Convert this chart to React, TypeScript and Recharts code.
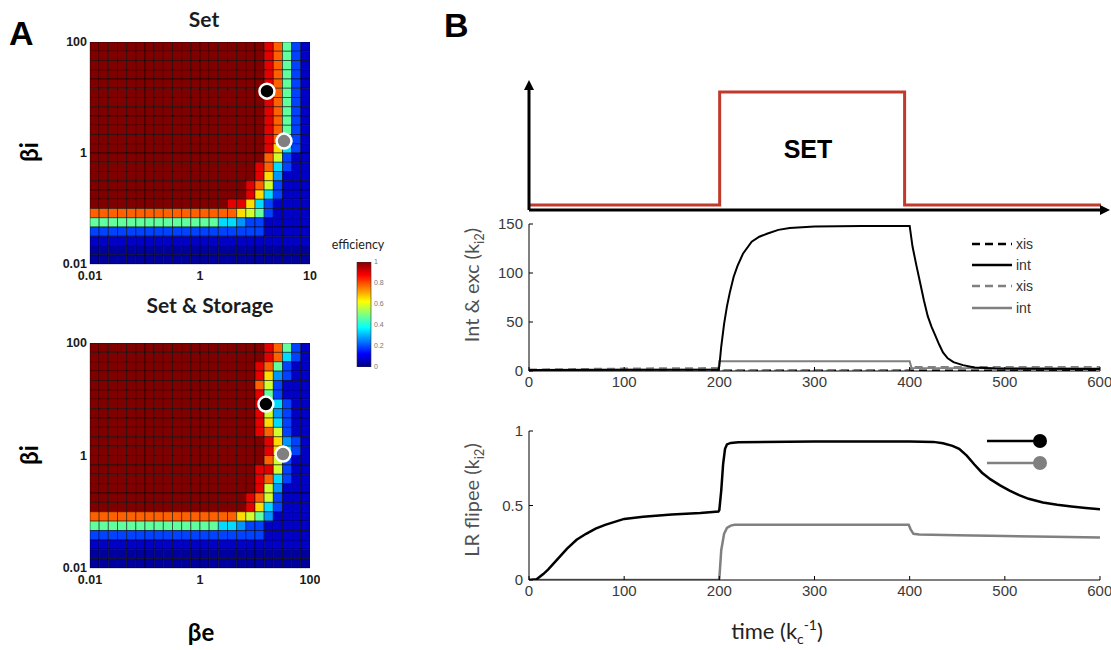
import React from 'react';
import { ScatterChart, Scatter, BarChart, Bar, XAxis, YAxis, LineChart, Line, Legend } from 'recharts';

// Heat maps: 24 x 24 cells. Row 0 is βi = 100 (top), column 0 is βe = 0.01 (left).
// One letter per cell, its efficiency is in LEVELS.
const SET_GRID = [
  'RRRRRRRRRRRRRRRRRRRroabd',
  'RRRRRRRRRRRRRRRRRRRroabd',
  'RRRRRRRRRRRRRRRRRRRroabd',
  'RRRRRRRRRRRRRRRRRRRroabd',
  'RRRRRRRRRRRRRRRRRRRroabd',
  'RRRRRRRRRRRRRRRRRRRroabd',
  'RRRRRRRRRRRRRRRRRRRroabd',
  'RRRRRRRRRRRRRRRRRRRroabd',
  'RRRRRRRRRRRRRRRRRRRroabd',
  'RRRRRRRRRRRRRRRRRRRroabd',
  'RRRRRRRRRRRRRRRRRRRroabd',
  'RRRRRRRRRRRRRRRRRRRrycbd',
  'RRRRRRRRRRRRRRRRRRRogbdd',
  'RRRRRRRRRRRRRRRRRRrocbdd',
  'RRRRRRRRRRRRRRRRRRrylddd',
  'RRRRRRRRRRRRRRRRRrogbddd',
  'RRRRRRRRRRRRRRRRRrycbddd',
  'RRRRRRRRRRRRRRRrrycbdddd',
  'ooooooooooooooooygabdddd',
  'aaaaaaaaaaaaaacclbbddddd',
  'bbbbbbbbbbbbbbbbbbbddddd',
  'dddddddddddddddddddddddd',
  'nnnnnnnnnnnnnnnnnnnnnnnn',
  'nnnnnnnnnnnnnnnnnnnnnnnn',
];

const STORE_GRID = [
  'RRRRRRRRRRRRRRRRRRRroabd',
  'RRRRRRRRRRRRRRRRRRRrocbd',
  'RRRRRRRRRRRRRRRRRRroabdd',
  'RRRRRRRRRRRRRRRRRRrylbdd',
  'RRRRRRRRRRRRRRRRRRogbddd',
  'RRRRRRRRRRRRRRRRRRrabddd',
  'RRRRRRRRRRRRRRRRRRrycbdd',
  'RRRRRRRRRRRRRRRRRRrglbdd',
  'RRRRRRRRRRRRRRRRRRrycbdd',
  'RRRRRRRRRRRRRRRRRRrogbdd',
  'RRRRRRRRRRRRRRRRRRRrylbd',
  'RRRRRRRRRRRRRRRRRRRrycbd',
  'RRRRRRRRRRRRRRRRRRRogbdd',
  'RRRRRRRRRRRRRRRRRRrrgbdd',
  'RRRRRRRRRRRRRRRRRRrocbdd',
  'RRRRRRRRRRRRRRRRRRrglddd',
  'RRRRRRRRRRRRRRRRRrogbddd',
  'RRRRRRRRRRRRRRRRRrycbddd',
  'ooooooooooooooooygaldddd',
  'aaaaaaaaaaaaaacclbbddddd',
  'bbbbbbbbbbbbbbbbbbbddddd',
  'dddddddddddddddddddddddd',
  'nnnnnnnnnnnnnnnnnnnnnnnn',
  'nnnnnnnnnnnnnnnnnnnnnnnn',
];

const LEVELS: Record<string, number> = {
  R: 1, r: 0.9, o: 0.78, y: 0.66, g: 0.58, a: 0.47, c: 0.34, l: 0.27, b: 0.19, d: 0.07, n: 0.03,
};

// axes are log10(β)
const LOG_TICKS = [-2, 0, 2];
const BI_LABELS = ['0.01', '1', '100'];
const BE_LABELS_SET = ['0.01', '1', '10'];
const BE_LABELS_STORE = ['0.01', '1', '100'];

// marked parameter pairs (black, grey)
const DOT_COLORS = ['#000000', '#808080'];
const SET_DOT_BE = [16.5, 33.7];
const SET_DOT_BI = [13, 1.64];
const STORE_DOT_BE = [15.8, 32.3];
const STORE_DOT_BI = [8.2, 1.06];

const CB_TICKS = [0, 0.2, 0.4, 0.6, 0.8, 1];

// SET stimulus (schematic)
const SIGNAL_T = [0, 200, 200, 394, 394, 600];
const SIGNAL_V = [0, 0, 1, 1, 0, 0];

const TIME_TICKS = [0, 100, 200, 300, 400, 500, 600];

// Int & exc
const INT_BLACK_T = [0, 100, 199, 200, 202, 205, 208, 211, 215, 219, 225, 234, 242, 250, 262, 274, 300, 350, 400, 403, 407, 411, 415, 419, 423, 427, 431, 435, 440, 446, 456, 468, 490, 600];
const INT_BLACK_V = [1, 1.2, 1.5, 5, 25, 48, 66, 80, 96, 107, 120, 132, 137, 140, 144, 146, 147.5, 148, 148, 127, 108, 90, 72, 56, 45, 36, 27, 19, 13, 9, 6, 3.5, 2.5, 2];
const XIS_BLACK_T = [0, 600];
const XIS_BLACK_V = [0.5, 0.5];
const XIS_GRAY_T = [0, 50, 100, 150, 199, 200, 400, 401, 600];
const XIS_GRAY_V = [1.5, 2, 2.5, 2.8, 3, 0.5, 0.5, 4, 4];
const INT_GRAY_T = [0, 199, 200, 400, 402, 600];
const INT_GRAY_V = [1, 1.5, 10, 10, 3, 2.5];

// LR flipee
const FLIP_BLACK_T = [0, 8, 15, 20, 25, 30, 40, 50, 60, 70, 80, 100, 120, 150, 180, 199, 200, 202, 204, 206, 208, 212, 220, 300, 400, 425, 435, 445, 452, 460, 468, 476, 485, 495, 505, 515, 525, 540, 555, 570, 585, 600];
const FLIP_BLACK_V = [0, 0.005, 0.04, 0.07, 0.105, 0.14, 0.21, 0.27, 0.31, 0.345, 0.37, 0.41, 0.425, 0.44, 0.45, 0.46, 0.47, 0.6, 0.78, 0.88, 0.91, 0.92, 0.925, 0.93, 0.93, 0.927, 0.918, 0.9, 0.88, 0.835, 0.775, 0.72, 0.675, 0.635, 0.6, 0.57, 0.545, 0.52, 0.505, 0.493, 0.483, 0.475];
const FLIP_GRAY_T = [0, 199, 200, 202, 205, 208, 212, 216, 300, 399, 401, 404, 410, 450, 500, 550, 600];
const FLIP_GRAY_V = [0, 0, 0.01, 0.2, 0.31, 0.35, 0.365, 0.37, 0.37, 0.37, 0.34, 0.31, 0.305, 0.3, 0.295, 0.29, 0.285];

const MID_LEGEND = [
  { name: 'xis', color: '#000000', dash: '8 5' },
  { name: 'int', color: '#000000', dash: undefined },
  { name: 'xis', color: '#808080', dash: '8 5' },
  { name: 'int', color: '#808080', dash: undefined },
];

const ARIAL = 'Liberation Sans, Arial, sans-serif';
const CALIBRI = 'Lato, Open Sans, sans-serif';

const pts = (t: number[], v: number[]) => t.map((x, i) => ({ t: x, v: v[i] }));

// matlab "jet" colour map
const jet = (v: number) => {
  const c = (x: number) => Math.round(255 * Math.max(0, Math.min(1, x)));
  return `rgb(${c(1.5 - Math.abs(4 * v - 3))},${c(1.5 - Math.abs(4 * v - 2))},${c(1.5 - Math.abs(4 * v - 1))})`;
};

const hmTick = { fontSize: 12.5, fill: '#1a1a1a', fontFamily: ARIAL, fontWeight: 'bold' };
const HM_PLOT_W = 220;

interface HeatmapProps {
  grid: string[];
  beLabels: string[];
  dotBe: number[];
  dotBi: number[];
  left: number;
  top: number;
  plotH: number;
}

function Heatmap({ grid, beLabels, dotBe, dotBi, left, top, plotH }: HeatmapProps) {
  const nRows = grid.length;
  const nCols = grid[0].length;
  // cell centres in log10 space
  const cells = grid.flatMap((row, r) =>
    row.split('').map((ch, c) => ({
      x: -2 + ((c + 0.5) * 4) / nCols,
      y: 2 - ((r + 0.5) * 4) / nRows,
      fill: jet(LEVELS[ch]),
    }))
  );
  const dots = dotBe.map((be, i) => ({ x: Math.log10(be), y: Math.log10(dotBi[i]), fill: DOT_COLORS[i] }));
  const cw = HM_PLOT_W / nCols;
  const chh = plotH / nRows;

  return (
    <div style={{ position: 'absolute', left, top }}>
      <ScatterChart width={280} height={12 + plotH + 26} margin={{ top: 12, right: 10, left: 10, bottom: 6 }}>
        <XAxis
          dataKey="x"
          type="number"
          domain={[-2, 2]}
          ticks={LOG_TICKS}
          tickFormatter={(v: number) => beLabels[LOG_TICKS.indexOf(v)]}
          height={20}
          tickSize={0}
          tickMargin={7}
          tickLine={false}
          axisLine={{ stroke: '#b5b5b5' }}
          tick={hmTick}
          allowDataOverflow
        />
        <YAxis
          dataKey="y"
          type="number"
          domain={[-2, 2]}
          ticks={LOG_TICKS}
          tickFormatter={(v: number) => BI_LABELS[LOG_TICKS.indexOf(v)]}
          width={40}
          tickSize={0}
          tickMargin={3}
          tickLine={false}
          axisLine={{ stroke: '#b5b5b5' }}
          tick={hmTick}
          allowDataOverflow
        />
        <Scatter
          data={cells}
          isAnimationActive={false}
          shape={(p: any) => (
            <rect
              x={p.cx - cw / 2}
              y={p.cy - chh / 2}
              width={cw}
              height={chh}
              fill={p.payload.fill}
              stroke="rgba(0,0,0,0.5)"
              strokeWidth={1}
            />
          )}
        />
        <Scatter
          data={dots}
          isAnimationActive={false}
          shape={(p: any) => <circle cx={p.cx} cy={p.cy} r={7.5} fill={p.payload.fill} stroke="#ffffff" strokeWidth={2.5} />}
        />
      </ScatterChart>
    </div>
  );
}

function ColorBar() {
  return (
    <div style={{ position: 'absolute', left: 350, top: 255 }}>
      <BarChart width={50} height={120} data={[{ v: 1 }]} margin={{ top: 7, right: 7, left: 7, bottom: 8 }} barCategoryGap={0}>
        <defs>
          <linearGradient id="jetGrad" x1="0" y1="1" x2="0" y2="0">
            <stop offset="0" stopColor="#000080" />
            <stop offset="0.125" stopColor="#0000ff" />
            <stop offset="0.375" stopColor="#00ffff" />
            <stop offset="0.625" stopColor="#ffff00" />
            <stop offset="0.875" stopColor="#ff0000" />
            <stop offset="1" stopColor="#800000" />
          </linearGradient>
        </defs>
        <XAxis hide />
        <YAxis
          orientation="right"
          type="number"
          domain={[0, 1]}
          ticks={CB_TICKS}
          width={22}
          tickSize={0}
          tickMargin={3}
          axisLine={false}
          tickLine={false}
          tick={{ fontSize: 7, fill: '#777', fontFamily: ARIAL }}
          allowDataOverflow
        />
        <Bar dataKey="v" fill="url(#jetGrad)" stroke="#333" strokeWidth={0.6} isAnimationActive={false} />
      </BarChart>
    </div>
  );
}

const timeTick = { fontSize: 15, fill: '#3a3a3a', fontFamily: ARIAL };

// matlab style box: ticks point inward on all four sides
function boxAxes(yDomain: number[], yTicks: number[], yFormat?: (v: number) => string) {
  return [
    <XAxis
      key="xb"
      dataKey="t"
      type="number"
      domain={[0, 600]}
      ticks={TIME_TICKS}
      tickSize={-4}
      tickMargin={9}
      height={20}
      axisLine={{ stroke: '#000' }}
      tickLine={{ stroke: '#000' }}
      tick={timeTick}
      allowDataOverflow
    />,
    <XAxis
      key="xt"
      xAxisId="top"
      orientation="top"
      type="number"
      domain={[0, 600]}
      ticks={TIME_TICKS}
      tick={false}
      tickSize={-4}
      height={0}
      axisLine={{ stroke: '#000' }}
      tickLine={{ stroke: '#000' }}
      allowDataOverflow
    />,
    <YAxis
      key="yl"
      type="number"
      domain={yDomain}
      ticks={yTicks}
      tickFormatter={yFormat}
      tickSize={-4}
      tickMargin={10}
      width={50}
      axisLine={{ stroke: '#000' }}
      tickLine={{ stroke: '#000' }}
      tick={timeTick}
      allowDataOverflow
    />,
    <YAxis
      key="yr"
      yAxisId="right"
      orientation="right"
      type="number"
      domain={yDomain}
      ticks={yTicks}
      tick={false}
      tickSize={-4}
      width={0}
      axisLine={{ stroke: '#000' }}
      tickLine={{ stroke: '#000' }}
      allowDataOverflow
    />,
  ];
}

const MidLegend = () => (
  <div style={{ fontFamily: ARIAL, fontSize: 14, color: '#333' }}>
    {MID_LEGEND.map((s, i) => (
      <div key={i} style={{ display: 'flex', alignItems: 'center', height: 21.3 }}>
        <svg width={40} height={6}>
          <line x1={0} y1={3} x2={40} y2={3} stroke={s.color} strokeWidth={2.5} strokeDasharray={s.dash} />
        </svg>
        <span style={{ marginLeft: 4 }}>{s.name}</span>
      </div>
    ))}
  </div>
);

const FlipLegend = () => (
  <div>
    {DOT_COLORS.map((c, i) => (
      <div key={i} style={{ height: 22 }}>
        <svg width={62} height={22}>
          <line x1={0} y1={11} x2={50} y2={11} stroke={c} strokeWidth={2.5} />
          <circle cx={53} cy={11} r={7} fill={c} />
        </svg>
      </div>
    ))}
  </div>
);

export default function App() {
  return (
    <div style={{ position: 'absolute', left: 0, top: 0, width: 1111, height: 650, background: '#fff' }}>
      <Heatmap grid={SET_GRID} beLabels={BE_LABELS_SET} dotBe={SET_DOT_BE} dotBi={SET_DOT_BI} left={40} top={30} plotH={222} />
      <Heatmap grid={STORE_GRID} beLabels={BE_LABELS_STORE} dotBe={STORE_DOT_BE} dotBi={STORE_DOT_BI} left={40} top={331} plotH={225} />
      <ColorBar />

      {/* SET stimulus */}
      <div style={{ position: 'absolute', left: 500, top: 70 }}>
        <LineChart width={611} height={150} margin={{ top: 19, right: 10, left: 28, bottom: 9 }}>
          <defs>
            <marker id="arrowHead" markerWidth="10" markerHeight="10" refX="1" refY="5" orient="auto-start-reverse" markerUnits="userSpaceOnUse">
              <path d="M0,0 L10,5 L0,10 z" fill="#000" />
            </marker>
          </defs>
          <XAxis
            dataKey="t"
            type="number"
            domain={[0, 600]}
            tick={false}
            tickLine={false}
            height={1}
            axisLine={{ stroke: '#000', strokeWidth: 3, markerEnd: 'url(#arrowHead)' }}
            allowDataOverflow
          />
          <YAxis
            type="number"
            domain={[-0.044, 1.027]}
            tick={false}
            tickLine={false}
            width={1}
            axisLine={{ stroke: '#000', strokeWidth: 3, markerStart: 'url(#arrowHead)' }}
            allowDataOverflow
          />
          <Line data={pts(SIGNAL_T, SIGNAL_V)} dataKey="v" type="linear" stroke="#c0392b" strokeWidth={3} dot={false} isAnimationActive={false} />
        </LineChart>
      </div>

      {/* Int & exc */}
      <div style={{ position: 'absolute', left: 455, top: 215 }}>
        <LineChart width={656} height={180} margin={{ top: 9, right: 11, left: 24, bottom: 4 }}>
          {boxAxes([0, 150], [0, 50, 100, 150])}
          <Line data={pts(XIS_BLACK_T, XIS_BLACK_V)} dataKey="v" name="xis" stroke="#000" strokeWidth={2} strokeDasharray="8 5" dot={false} isAnimationActive={false} />
          <Line data={pts(XIS_GRAY_T, XIS_GRAY_V)} dataKey="v" name="xis" stroke="#808080" strokeWidth={2} strokeDasharray="8 5" dot={false} isAnimationActive={false} />
          <Line data={pts(INT_GRAY_T, INT_GRAY_V)} dataKey="v" name="int" stroke="#808080" strokeWidth={2} dot={false} isAnimationActive={false} />
          <Line data={pts(INT_BLACK_T, INT_BLACK_V)} dataKey="v" name="int" stroke="#000" strokeWidth={2} dot={false} isAnimationActive={false} />
          <Legend
            layout="vertical"
            align="center"
            verticalAlign="middle"
            content={() => <MidLegend />}
            wrapperStyle={{ left: 517, top: 18, width: 'auto' }}
          />
        </LineChart>
      </div>

      {/* LR flipee */}
      <div style={{ position: 'absolute', left: 455, top: 420 }}>
        <LineChart width={656} height={185} margin={{ top: 11, right: 11, left: 24, bottom: 5 }}>
          {boxAxes([0, 1], [0, 0.5, 1], (v) => String(v))}
          <Line data={pts(FLIP_GRAY_T, FLIP_GRAY_V)} dataKey="v" stroke="#808080" strokeWidth={2.5} dot={false} isAnimationActive={false} />
          <Line data={pts(FLIP_BLACK_T, FLIP_BLACK_V)} dataKey="v" stroke="#000" strokeWidth={2.5} dot={false} isAnimationActive={false} />
          <Legend
            layout="vertical"
            align="center"
            verticalAlign="middle"
            content={() => <FlipLegend />}
            wrapperStyle={{ left: 532, top: 10, width: 'auto' }}
          />
        </LineChart>
      </div>

      <svg width={1111} height={650} style={{ position: 'absolute', left: 0, top: 0, pointerEvents: 'none' }}>
        <text x={9} y={45} fontSize={34} fontWeight="bold" fontFamily={ARIAL}>A</text>
        <text x={444} y={37} fontSize={34} fontWeight="bold" fontFamily={ARIAL}>B</text>
        <text x={204} y={27} fontSize={21} fontWeight="bold" fontFamily={CALIBRI} textAnchor="middle" fill="#1c1c1c">Set</text>
        <text x={210} y={313} fontSize={21} fontWeight="bold" fontFamily={CALIBRI} textAnchor="middle" fill="#1c1c1c">Set &amp; Storage</text>
        <text x={38} y={152} fontSize={24} fontWeight="bold" fontFamily={CALIBRI} textAnchor="middle" transform="rotate(-90 38 152)">βi</text>
        <text x={38} y={455} fontSize={24} fontWeight="bold" fontFamily={CALIBRI} textAnchor="middle" transform="rotate(-90 38 455)">βi</text>
        <text x={201} y={641} fontSize={24} fontWeight="bold" fontFamily={CALIBRI} textAnchor="middle">βe</text>
        <text x={358} y={249} fontSize={12.5} fontFamily={CALIBRI} textAnchor="middle" fill="#222">efficiency</text>
        <text x={808} y={158} fontSize={25} fontWeight="bold" fontFamily={ARIAL} textAnchor="middle">SET</text>
        <text x={479} y={285} fontSize={20} fontFamily={CALIBRI} textAnchor="middle" fill="#505050" transform="rotate(-90 479 285)">
          Int &amp; exc (k<tspan fontSize={13} dy={5}>i2</tspan><tspan dy={-5}>)</tspan>
        </text>
        <text x={479} y={500} fontSize={20} fontFamily={CALIBRI} textAnchor="middle" fill="#505050" transform="rotate(-90 479 500)">
          LR flipee (k<tspan fontSize={13} dy={5}>i2</tspan><tspan dy={-5}>)</tspan>
        </text>
        <text x={777} y={639} fontSize={22} fontFamily={CALIBRI} textAnchor="middle" fill="#222">
          time (k<tspan fontSize={14} dy={5}>c</tspan>
          <tspan fontSize={14} dy={-14}>-1</tspan>
          <tspan dy={9}>)</tspan>
        </text>
      </svg>
    </div>
  );
}
